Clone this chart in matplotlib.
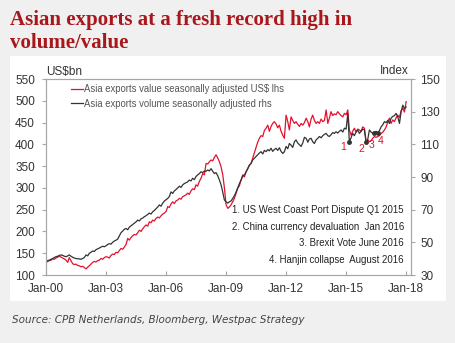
import numpy as np
import pandas as pd
import matplotlib
matplotlib.use("Agg")
import matplotlib.pyplot as plt
import matplotlib.dates as mdates

# monthly series, Jan-2000 .. Jan-2018
months = pd.date_range("2000-01-01", periods=217, freq="MS")

# Asia exports value, US$bn (lhs)
export_value = [
    129, 131, 133, 134, 137, 136, 139, 141, 143, 141, 139, 137,  # 2000
    134, 129, 140, 133, 126, 124, 125, 122, 121, 119, 120, 117,  # 2001
    114, 118, 121, 125, 129, 131, 130, 133, 134, 138, 136, 140,  # 2002
    142, 141, 139, 145, 148, 147, 152, 151, 156, 161, 159, 164,  # 2003
    170, 184, 180, 186, 190, 193, 192, 197, 203, 200, 206, 211,  # 2004
    215, 212, 222, 220, 226, 224, 230, 233, 231, 236, 240, 242,  # 2005
    246, 257, 255, 263, 268, 264, 270, 272, 276, 274, 280, 282,  # 2006
    284, 288, 285, 293, 298, 296, 307, 304, 315, 322, 333, 330,  # 2007
    356, 355, 360, 364, 362, 370, 376, 369, 360, 348, 330, 300,  # 2008
    261, 253, 256, 261, 268, 276, 287, 299, 305, 318, 330, 325,  # 2009
    337, 345, 352, 356, 368, 380, 392, 405, 414, 420, 418, 432,  # 2010
    437, 444, 430, 441, 448, 452, 447, 438, 444, 430, 421, 414,  # 2011
    467, 452, 433, 463, 455, 448, 452, 446, 441, 448, 444, 450,  # 2012
    460, 452, 440, 458, 467, 455, 448, 452, 448, 458, 452, 455,  # 2013
    479, 448, 460, 475, 466, 470, 468, 475, 470, 466, 463, 471,  # 2014
    468, 479, 433, 421, 430, 437, 428, 435, 433, 430, 440, 437,  # 2015
    406, 410, 406, 408, 414, 418, 416, 418, 420, 425, 428, 433,  # 2016
    440, 452, 460, 448, 456, 452, 461, 467, 462, 477, 483, 474,  # 2017
    498,                                                          # 2018
]

# Asia exports volume, index (rhs)
export_volume = [
    38.0, 38.8, 39.1, 39.6, 40.1, 40.7, 41.2, 41.5, 42.0, 42.3, 42.0, 41.5,
    41.2, 41.7, 42.3, 41.5, 40.9, 40.4, 40.1, 39.9, 39.9, 39.6, 40.1, 40.7,
    42.3, 41.7, 43.3, 43.9, 44.7, 44.4, 45.5, 46.0, 46.5, 47.1, 47.6, 47.3,
    47.9, 48.7, 49.2, 48.9, 50.0, 50.8, 51.3, 51.9, 54.0, 55.9, 56.9, 58.0,
    58.5, 57.7, 59.3, 60.1, 60.9, 61.7, 62.5, 63.6, 63.1, 64.4, 64.9, 65.7,
    66.3, 67.1, 67.9, 67.3, 68.7, 69.5, 70.5, 71.6, 72.9, 72.1, 74.0, 75.3,
    76.1, 76.9, 78.0, 80.9, 79.9, 81.5, 82.3, 83.3, 84.4, 83.6, 85.2, 86.0,
    86.5, 87.1, 88.1, 87.6, 89.2, 88.4, 90.3, 91.3, 92.1, 93.2, 92.7, 93.7,
    93.5, 94.3, 93.7, 95.1, 93.5, 92.1, 92.7, 90.8, 88.1, 85.2, 80.7, 75.9,
    74.8, 74.0, 74.8, 75.3, 76.9, 78.5, 80.7, 83.3, 86.0, 88.1, 90.5, 91.3,
    93.2, 95.1, 97.2, 98.3, 100.4, 101.5, 102.5, 103.6, 104.7, 105.5, 104.1, 106.3,
    105.5, 106.8, 106.0, 107.6, 105.7, 106.8, 107.6, 106.3, 107.9, 105.7, 104.4, 105.5,
    108.7, 107.3, 110.5, 109.5, 108.1, 111.6, 112.7, 110.8, 109.7, 108.7, 110.9, 114.3,
    113.7, 111.3, 113.2, 113.7, 111.6, 110.5, 112.7, 113.7, 114.8, 114.0, 115.3, 116.1,
    116.7, 115.3, 114.8, 115.9, 117.2, 116.7, 117.7, 116.9, 118.0, 118.8, 117.5, 119.9,
    119.3, 128.9, 111.6, 114.0, 116.7, 115.3, 117.5, 118.8, 116.7, 118.0, 119.3, 118.8,
    111.3, 113.2, 118.8, 117.5, 116.9, 116.7, 118.0, 116.7, 118.5, 120.7, 122.0, 123.9,
    123.3, 124.7, 122.8, 126.0, 127.1, 127.6, 128.9, 126.8, 122.8, 130.0, 134.0, 131.9,
    132.9,
]

# events marked on the volume line
event_dates = ["2015-03-01", "2016-01-01", "2016-06-01", "2016-08-01"]
event_tags = ["1", "2", "3", "4"]
event_offsets = [(-4.8, -3.8), (-3.6, -4.8), (-2, -8), (2.2, -5.5)]
event_notes = [
    "1. US West Coast Port Dispute Q1 2015",
    "2. China currency devaluation  Jan 2016",
    "3. Brexit Vote June 2016",
    "4. Hanjin collapse  August 2016",
]

left_ticks = [100, 150, 200, 250, 300, 350, 400, 450, 500, 550]
right_ticks = [30, 50, 70, 90, 110, 130, 150]
year_ticks = ["2000", "2003", "2006", "2009", "2012", "2015", "2018"]

RED = "#e4112d"
DARK = "#333333"
GREY = "#a6a6a6"
BG = "#f0f0f0"

plt.rcParams["font.family"] = ["Liberation Sans", "DejaVu Sans"]

W, H = 456, 343
fig = plt.figure(figsize=(W / 100, H / 100), dpi=100, facecolor=BG)

# white panel behind the chart
panel = plt.Rectangle((10 / W, 1 - 301 / H), 436 / W, 245 / H,
                      transform=fig.transFigure, facecolor="white",
                      edgecolor="none", zorder=-10)
fig.patches.append(panel)

ax = fig.add_axes([46 / W, 1 - 275 / H, (410.7 - 46) / W, 196 / H])
ax.set_facecolor("none")
ax2 = ax.twinx()

l1, = ax.plot(months, export_value, color=RED, lw=0.9, zorder=3)
l2, = ax2.plot(months, export_volume, color=DARK, lw=0.9, zorder=2)

ev = pd.to_datetime(event_dates)
ev_vals = pd.Series(export_volume, index=months).loc[ev].values
ax2.plot(ev, ev_vals, "o", color=DARK, ms=2.5, zorder=4)
for d, v, tag, off in zip(ev, ev_vals, event_tags, event_offsets):
    ax2.annotate(tag, (d, v), xytext=off, textcoords="offset points",
                 color=RED, fontsize=7.5, ha="center", va="center")

ax.set_ylim(100, 550)
ax.set_yticks(left_ticks)
ax2.set_ylim(30, 150)
ax2.set_yticks(right_ticks)
ax.set_xlim(pd.Timestamp("2000-01-01"), pd.Timestamp("2018-03-25"))
ax.set_xticks(pd.to_datetime([y + "-01-01" for y in year_ticks]))
ax.xaxis.set_major_formatter(mdates.DateFormatter("%b-%y"))

for a in (ax, ax2):
    for s in a.spines.values():
        s.set_color(GREY)
        s.set_linewidth(0.8)
ax.tick_params(axis="y", direction="out", length=3, width=0.8, color=GREY,
               labelsize=8.5, labelcolor="#333333", pad=5)
ax2.tick_params(axis="y", direction="out", length=3, width=0.8, color=GREY,
                labelsize=8.5, labelcolor="#333333", pad=4)
ax.tick_params(axis="x", direction="in", length=3, width=0.8, color=GREY,
               labelsize=8.5, labelcolor="#333333", pad=6)

fig.text(46 / W, 1 - 71.5 / H, "US$bn", fontsize=8.5, color="#333333",
         ha="left", va="center")
fig.text(409 / W, 1 - 71.5 / H, "Index", fontsize=8.5, color="#333333",
         ha="right", va="center")

leg = ax.legend([l1, l2],
                ["Asia exports value seasonally adjusted US$ lhs",
                 "Asia exports volume seasonally adjusted rhs"],
                loc="upper left", bbox_to_anchor=(71 / W, 1 - 84.5 / H),
                bbox_transform=fig.transFigure, frameon=False, fontsize=6.85,
                handlelength=1.25, handletextpad=0.15, labelspacing=0.45,
                borderpad=0, borderaxespad=0)
for t in leg.get_texts():
    t.set_color("#555555")

for i, note in enumerate(event_notes):
    fig.text(404 / W, 1 - (210 + 16.7 * i) / H, note, fontsize=6.9,
             color="#222222", ha="right", va="center")

fig.text(10 / W, 1 - 25 / H, "Asian exports at a fresh record high in",
         fontsize=15, fontweight="bold", color="#a8171c",
         family=["Liberation Serif"], ha="left", va="baseline")
fig.text(10 / W, 1 - 48 / H, "volume/value",
         fontsize=15, fontweight="bold", color="#a8171c",
         family=["Liberation Serif"], ha="left", va="baseline")

fig.text(12 / W, 1 - 320 / H,
         "Source: CPB Netherlands, Bloomberg, Westpac Strategy",
         fontsize=7.5, style="italic", color="#444444",
         family=["DejaVu Sans"], ha="left", va="center")

fig.savefig("out.png", dpi=100, facecolor=BG)
